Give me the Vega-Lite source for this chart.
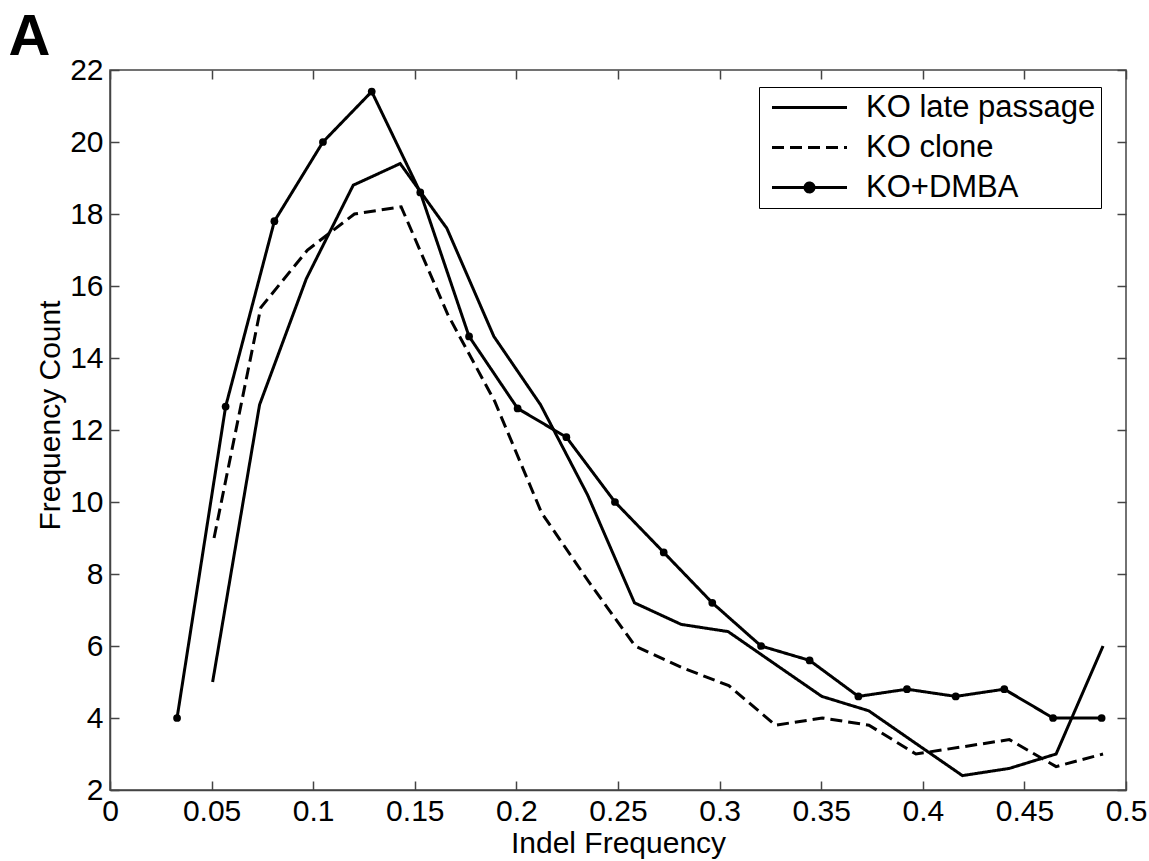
{
  "$schema": "https://vega.github.io/schema/vega-lite/v6.json",
  "autosize": {"type": "none"},
  "padding": {"left": 110, "top": 70, "right": 23, "bottom": 71},
  "width": 1016,
  "height": 720,
  "background": "white",
  "config": {
    "view": {"stroke": "#444", "strokeWidth": 1.5},
    "axis": {"grid": false, "domainColor": "#444", "domainWidth": 1.5, "tickColor": "#444", "tickWidth": 1.5, "tickSize": -9, "labelFont": "Liberation Sans", "labelFontSize": 30, "labelColor": "black", "titleFont": "Liberation Sans", "titleFontSize": 30, "titleFontWeight": "normal", "titleColor": "black"}
  },
  "data": {"values": [
    {"s": "KO late passage", "x": 0.0505, "y": 5.0},
    {"s": "KO late passage", "x": 0.0736, "y": 12.7},
    {"s": "KO late passage", "x": 0.0966, "y": 16.2},
    {"s": "KO late passage", "x": 0.1197, "y": 18.8},
    {"s": "KO late passage", "x": 0.1428, "y": 19.4},
    {"s": "KO late passage", "x": 0.1658, "y": 17.6},
    {"s": "KO late passage", "x": 0.1889, "y": 14.6},
    {"s": "KO late passage", "x": 0.2119, "y": 12.7},
    {"s": "KO late passage", "x": 0.2350, "y": 10.2},
    {"s": "KO late passage", "x": 0.2581, "y": 7.2},
    {"s": "KO late passage", "x": 0.2811, "y": 6.6},
    {"s": "KO late passage", "x": 0.3042, "y": 6.4},
    {"s": "KO late passage", "x": 0.3272, "y": 5.5},
    {"s": "KO late passage", "x": 0.3503, "y": 4.6},
    {"s": "KO late passage", "x": 0.3734, "y": 4.2},
    {"s": "KO late passage", "x": 0.3964, "y": 3.3},
    {"s": "KO late passage", "x": 0.4195, "y": 2.4},
    {"s": "KO late passage", "x": 0.4426, "y": 2.6},
    {"s": "KO late passage", "x": 0.4656, "y": 3.0},
    {"s": "KO late passage", "x": 0.4887, "y": 6.0},
    {"s": "KO clone", "x": 0.0512, "y": 9.0},
    {"s": "KO clone", "x": 0.0742, "y": 15.4},
    {"s": "KO clone", "x": 0.0972, "y": 17.0},
    {"s": "KO clone", "x": 0.1203, "y": 18.0},
    {"s": "KO clone", "x": 0.1433, "y": 18.2},
    {"s": "KO clone", "x": 0.1663, "y": 15.2},
    {"s": "KO clone", "x": 0.1893, "y": 12.8},
    {"s": "KO clone", "x": 0.2124, "y": 9.7},
    {"s": "KO clone", "x": 0.2354, "y": 7.8},
    {"s": "KO clone", "x": 0.2584, "y": 6.0},
    {"s": "KO clone", "x": 0.2814, "y": 5.4},
    {"s": "KO clone", "x": 0.3045, "y": 4.9},
    {"s": "KO clone", "x": 0.3275, "y": 3.8},
    {"s": "KO clone", "x": 0.3505, "y": 4.0},
    {"s": "KO clone", "x": 0.3735, "y": 3.8},
    {"s": "KO clone", "x": 0.3966, "y": 3.0},
    {"s": "KO clone", "x": 0.4196, "y": 3.2},
    {"s": "KO clone", "x": 0.4426, "y": 3.4},
    {"s": "KO clone", "x": 0.4656, "y": 2.65},
    {"s": "KO clone", "x": 0.4887, "y": 3.0},
    {"s": "KO+DMBA", "x": 0.0330, "y": 4.0},
    {"s": "KO+DMBA", "x": 0.0569, "y": 12.65},
    {"s": "KO+DMBA", "x": 0.0809, "y": 17.8},
    {"s": "KO+DMBA", "x": 0.1048, "y": 20.0},
    {"s": "KO+DMBA", "x": 0.1288, "y": 21.4},
    {"s": "KO+DMBA", "x": 0.1527, "y": 18.6},
    {"s": "KO+DMBA", "x": 0.1767, "y": 14.6},
    {"s": "KO+DMBA", "x": 0.2006, "y": 12.6},
    {"s": "KO+DMBA", "x": 0.2246, "y": 11.8},
    {"s": "KO+DMBA", "x": 0.2485, "y": 10.0},
    {"s": "KO+DMBA", "x": 0.2725, "y": 8.6},
    {"s": "KO+DMBA", "x": 0.2964, "y": 7.2},
    {"s": "KO+DMBA", "x": 0.3204, "y": 6.0},
    {"s": "KO+DMBA", "x": 0.3443, "y": 5.6},
    {"s": "KO+DMBA", "x": 0.3683, "y": 4.6},
    {"s": "KO+DMBA", "x": 0.3922, "y": 4.8},
    {"s": "KO+DMBA", "x": 0.4162, "y": 4.6},
    {"s": "KO+DMBA", "x": 0.4401, "y": 4.8},
    {"s": "KO+DMBA", "x": 0.4641, "y": 4.0},
    {"s": "KO+DMBA", "x": 0.4880, "y": 4.0}
  ]},
  "layer": [
    {
      "mark": {"type": "line", "color": "black", "strokeWidth": 3, "strokeJoin": "miter"},
      "encoding": {
        "x": {"field": "x", "type": "quantitative", "scale": {"domain": [0, 0.5], "nice": false, "zero": false},
              "axis": {"values": [0, 0.05, 0.1, 0.15, 0.2, 0.25, 0.3, 0.35, 0.4, 0.45, 0.5], "labelExpr": "datum.value === 0 ? '0' : format(datum.value, '.2~f')", "title": "Indel Frequency", "labelPadding": 15, "titlePadding": 2, "labelFlush": false}},
        "y": {"field": "y", "type": "quantitative", "scale": {"domain": [2, 22], "nice": false, "zero": false},
              "axis": {"values": [2, 4, 6, 8, 10, 12, 14, 16, 18, 20, 22], "title": "Frequency Count", "labelPadding": 16, "titlePadding": 4, "titleY": 345, "labelFlush": false}},
        "detail": {"field": "s"},
        "strokeDash": {"field": "s", "type": "nominal",
          "scale": {"domain": ["KO late passage", "KO clone", "KO+DMBA"], "range": [[1, 0], [12, 6], [1, 0]]},
          "legend": {"title": null, "orient": "none", "legendX": 649, "legendY": 17, "strokeColor": "black", "fillColor": "white", "padding": 5,
            "symbolType": "M-3,0H3", "symbolSize": 625, "symbolStrokeWidth": 3, "symbolStrokeColor": "black",
            "labelFont": "Liberation Sans", "labelFontSize": 31, "labelColor": "black", "labelOffset": 71, "rowPadding": 8, "labelLimit": 400,
            "encode": {"symbols": {"update": {
              "shape": {"signal": "datum.value === 'KO+DMBA' ? 'M-3,0H3M-0.36,0A0.36,0.36 0 1 0 0.36,0A0.36,0.36 0 1 0 -0.36,0Z' : 'M-3,0H3'"},
              "fill": {"signal": "datum.value === 'KO+DMBA' ? 'black' : 'transparent'"},
              "stroke": {"value": "black"},
              "strokeWidth": {"value": 3},
              "opacity": {"value": 1},
              "xc": {"value": 45.5}
            }}}}
        }
      }
    },
    {
      "transform": [{"filter": "datum.s === 'KO+DMBA'"}],
      "mark": {"type": "point", "filled": true, "color": "black", "size": 60, "opacity": 1},
      "encoding": {
        "x": {"field": "x", "type": "quantitative", "axis": null},
        "y": {"field": "y", "type": "quantitative", "axis": null}
      }
    },
    {
      "transform": [{"filter": "datum.s === 'KO+DMBA'"}],
      "mark": {"type": "point", "opacity": 0},
      "encoding": {
        "x": {"field": "x", "type": "quantitative", "axis": {"orient": "top", "values": [0, 0.05, 0.1, 0.15, 0.2, 0.25, 0.3, 0.35, 0.4, 0.45, 0.5], "labels": false, "domain": false,
              "title": "A", "titleX": -102, "titleY": -16, "titleAngle": 0, "titleAlign": "left", "titleBaseline": "alphabetic", "titleAnchor": null, "titleFontSize": 58, "titleFontWeight": "bold", "titleFont": "Liberation Sans", "titleColor": "black"}},
        "y": {"field": "y", "type": "quantitative", "axis": {"orient": "right", "values": [2, 4, 6, 8, 10, 12, 14, 16, 18, 20, 22], "labels": false, "title": null, "domain": false}}
      }
    }
  ],
  "resolve": {"axis": {"x": "independent", "y": "independent"}}
}
